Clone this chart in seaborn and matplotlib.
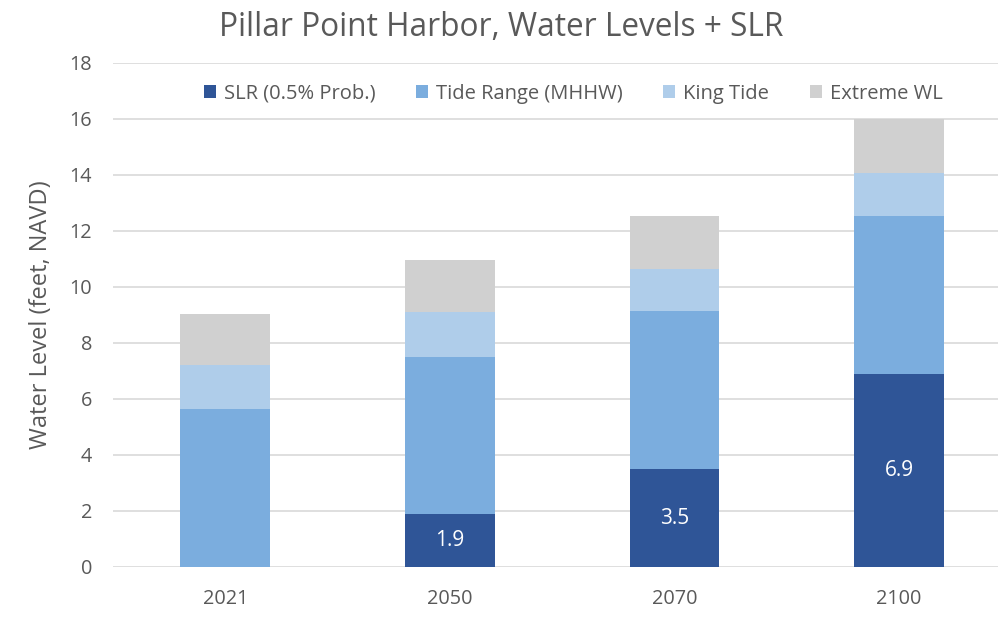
import numpy as np
import pandas as pd
import matplotlib
matplotlib.use("Agg")
import matplotlib.pyplot as plt
import seaborn as sns

years = ["2021", "2050", "2070", "2100"]
slr = [0.0, 1.9, 3.5, 6.9]
tide_range = [5.65, 5.6, 5.65, 5.65]
king_tide = [1.55, 1.6, 1.5, 1.53]
extreme_wl = [1.85, 1.85, 1.9, 1.92]

series = ["SLR (0.5% Prob.)", "Tide Range (MHHW)", "King Tide", "Extreme WL"]
colors = ["#2f5597", "#7badde", "#afcdea", "#d0d0d0"]

sns.set_theme(style="white")
plt.rcParams["font.family"] = ["Open Sans", "DejaVu Sans"]
text_color = "#595959"

fig = plt.figure(figsize=(9.98, 6.18), dpi=100)
ax = fig.add_axes([113 / 998, 51 / 618, 1 - 113 / 998, (567 - 63) / 618])

bottom = np.zeros(len(years))
for name, vals, c in zip(series, [slr, tide_range, king_tide, extreme_wl], colors):
    sns.barplot(x=years, y=vals, bottom=bottom, color=c, width=0.4,
                label=name, ax=ax, saturation=1, linewidth=0)
    bottom = bottom + np.array(vals)

# labels on SLR segment
for i, v in enumerate(slr):
    if v > 0:
        ax.text(i, v / 2, f"{v:.1f}", ha="center", va="center",
                color="white", fontsize=15)

ax.set_ylim(0, 18)
ax.set_xlim(-0.5, 3.44)
ax.set_yticks(range(0, 19, 2))
ax.yaxis.grid(True, color="#d9d9d9", linewidth=1.2)
ax.set_axisbelow(True)
for s in ax.spines.values():
    s.set_visible(False)
ax.tick_params(axis="both", length=0, colors=text_color, labelsize=14.3)
ax.tick_params(axis="x", pad=16)
ax.tick_params(axis="y", pad=15)
ax.set_xlabel("")
ax.set_ylabel("Water Level (feet, NAVD)", color=text_color, fontsize=17, labelpad=12)

fig.text(0.502, 1 - 28 / 618, "Pillar Point Harbor, Water Levels + SLR",
         ha="center", va="center", fontsize=22.8, color=text_color)

leg = ax.legend(loc="upper center", bbox_to_anchor=(0.5 + 0.02, 0.995), ncol=4,
                frameon=False, fontsize=14.5, handlelength=0.6, handleheight=0.6,
                handletextpad=0.4, columnspacing=2.0)
for t in leg.get_texts():
    t.set_color(text_color)

fig.savefig("out.png", dpi=100)
